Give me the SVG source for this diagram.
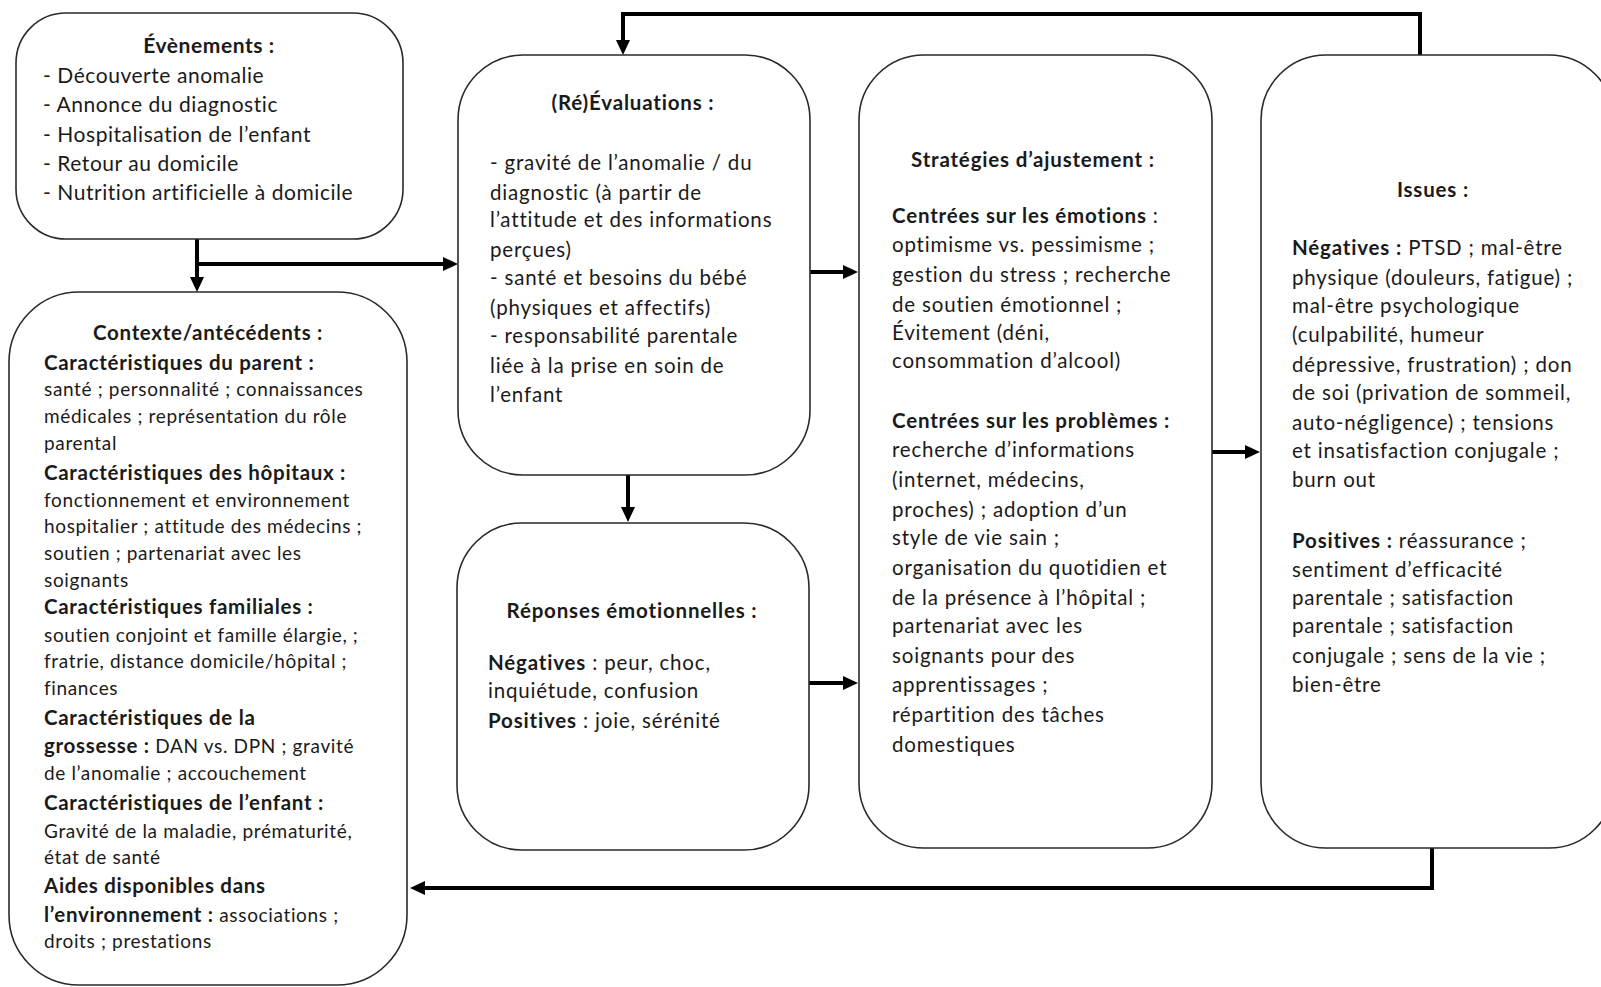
<svg xmlns="http://www.w3.org/2000/svg" width="1601" height="987" viewBox="0 0 1601 987">
<defs>
<style>
.box{fill:#fff;stroke:#2a2a2a;stroke-width:1.6}
text{font-family:Lato,"Open Sans","Liberation Sans",sans-serif;fill:#1a1a1a}
.t{font-size:20.5px;letter-spacing:0.82px}
.s{font-size:19px;letter-spacing:0.65px}
.s .b,.s.b{font-size:20.5px;letter-spacing:0.7px}
.e{font-size:21px;letter-spacing:0.55px}
.b{font-weight:bold}
.c{text-anchor:middle}
.ln{fill:none;stroke:#000;stroke-width:4}
</style>
<marker id="ah" markerUnits="userSpaceOnUse" markerWidth="16" markerHeight="14" refX="5" refY="7" orient="auto">
<path d="M0,0 L15,7 L0,14 z" fill="#000"/>
</marker>
</defs>
<rect width="1601" height="987" fill="#fff"/>

<g id="connectors">
<line class="ln" x1="197" y1="239" x2="197" y2="282" marker-end="url(#ah)"/>
<line class="ln" x1="195" y1="264" x2="448" y2="264" marker-end="url(#ah)"/>
<polyline class="ln" points="1420,55 1420,14 623,14 623,45" marker-end="url(#ah)"/>
<line class="ln" x1="628" y1="475" x2="628" y2="512" marker-end="url(#ah)"/>
<line class="ln" x1="810" y1="272" x2="848" y2="272" marker-end="url(#ah)"/>
<line class="ln" x1="809" y1="683" x2="848" y2="683" marker-end="url(#ah)"/>
<line class="ln" x1="1212" y1="452" x2="1250" y2="452" marker-end="url(#ah)"/>
<polyline class="ln" points="1432,848 1432,888 420,888" marker-end="url(#ah)"/>
</g>

<g id="evenements">
<rect class="box" x="16" y="13" width="387" height="226" rx="50"/>
<text class="e b c" x="209" y="53">Évènements :</text>
<text class="e" x="43" y="83">- Découverte anomalie</text>
<text class="e" x="43" y="112">- Annonce du diagnostic</text>
<text class="e" x="43" y="142">- Hospitalisation de l’enfant</text>
<text class="e" x="43" y="171">- Retour au domicile</text>
<text class="e" x="43" y="200">- Nutrition artificielle à domicile</text>
</g>

<g id="contexte">
<rect class="box" x="9" y="292" width="398" height="693" rx="70"/>
<text class="s b c" x="208" y="340">Contexte/antécédents :</text>
<text class="s b" x="44" y="370">Caractéristiques du parent :</text>
<text class="s" x="44" y="396">santé ; personnalité ; connaissances</text>
<text class="s" x="44" y="423">médicales ; représentation du rôle</text>
<text class="s" x="44" y="450">parental</text>
<text class="s b" x="44" y="480">Caractéristiques des hôpitaux :</text>
<text class="s" x="44" y="507">fonctionnement et environnement</text>
<text class="s" x="44" y="533">hospitalier ; attitude des médecins ;</text>
<text class="s" x="44" y="560">soutien ; partenariat avec les</text>
<text class="s" x="44" y="587">soignants</text>
<text class="s b" x="44" y="614">Caractéristiques familiales :</text>
<text class="s" x="44" y="642">soutien conjoint et famille élargie, ;</text>
<text class="s" x="44" y="668">fratrie, distance domicile/hôpital ;</text>
<text class="s" x="44" y="695">finances</text>
<text class="s b" x="44" y="725">Caractéristiques de la</text>
<text class="s" x="44" y="753"><tspan class="b">grossesse :</tspan> DAN vs. DPN ; gravité</text>
<text class="s" x="44" y="780">de l’anomalie ; accouchement</text>
<text class="s b" x="44" y="810">Caractéristiques de l’enfant :</text>
<text class="s" x="44" y="838">Gravité de la maladie, prématurité,</text>
<text class="s" x="44" y="864">état de santé</text>
<text class="s b" x="44" y="893">Aides disponibles dans</text>
<text class="s" x="44" y="922"><tspan class="b">l’environnement :</tspan> associations ;</text>
<text class="s" x="44" y="948">droits ; prestations</text>
</g>

<g id="reevaluations">
<rect class="box" x="458" y="55" width="352" height="420" rx="65"/>
<text class="t b c" x="633" y="110">(Ré)Évaluations :</text>
<text class="t" x="490" y="170">- gravité de l’anomalie / du</text>
<text class="t" x="490" y="200">diagnostic (à partir de</text>
<text class="t" x="490" y="227">l’attitude et des informations</text>
<text class="t" x="490" y="257">perçues)</text>
<text class="t" x="490" y="285">- santé et besoins du bébé</text>
<text class="t" x="490" y="315">(physiques et affectifs)</text>
<text class="t" x="490" y="343">- responsabilité parentale</text>
<text class="t" x="490" y="373">liée à la prise en soin de</text>
<text class="t" x="490" y="402">l’enfant</text>
</g>

<g id="reponses">
<rect class="box" x="457" y="523" width="352" height="327" rx="65"/>
<text class="t b c" x="632" y="618">Réponses émotionnelles :</text>
<text class="t" x="488" y="670"><tspan class="b">Négatives</tspan> : peur, choc,</text>
<text class="t" x="488" y="698">inquiétude, confusion</text>
<text class="t" x="488" y="728"><tspan class="b">Positives</tspan> : joie, sérénité</text>
</g>

<g id="strategies">
<rect class="box" x="859" y="55" width="353" height="793" rx="65"/>
<text class="t b c" x="1033" y="167">Stratégies d’ajustement :</text>
<text class="t" x="892" y="223"><tspan class="b">Centrées sur les émotions</tspan> :</text>
<text class="t" x="892" y="252">optimisme vs. pessimisme ;</text>
<text class="t" x="892" y="282">gestion du stress ; recherche</text>
<text class="t" x="892" y="312">de soutien émotionnel ;</text>
<text class="t" x="892" y="340">Évitement (déni,</text>
<text class="t" x="892" y="368">consommation d’alcool)</text>
<text class="t b" x="892" y="428">Centrées sur les problèmes :</text>
<text class="t" x="892" y="457">recherche d’informations</text>
<text class="t" x="892" y="487">(internet, médecins,</text>
<text class="t" x="892" y="517">proches) ; adoption d’un</text>
<text class="t" x="892" y="545">style de vie sain ;</text>
<text class="t" x="892" y="575">organisation du quotidien et</text>
<text class="t" x="892" y="605">de la présence à l’hôpital ;</text>
<text class="t" x="892" y="633">partenariat avec les</text>
<text class="t" x="892" y="663">soignants pour des</text>
<text class="t" x="892" y="692">apprentissages ;</text>
<text class="t" x="892" y="722">répartition des tâches</text>
<text class="t" x="892" y="752">domestiques</text>
</g>

<g id="issues">
<rect class="box" x="1261" y="55" width="353" height="793" rx="65"/>
<text class="t b c" x="1433" y="197">Issues :</text>
<text class="t" x="1292" y="255"><tspan class="b">Négatives :</tspan> PTSD ; mal-être</text>
<text class="t" x="1292" y="285">physique (douleurs, fatigue) ;</text>
<text class="t" x="1292" y="313">mal-être psychologique</text>
<text class="t" x="1292" y="342">(culpabilité, humeur</text>
<text class="t" x="1292" y="372">dépressive, frustration) ; don</text>
<text class="t" x="1292" y="400">de soi (privation de sommeil,</text>
<text class="t" x="1292" y="430">auto-négligence) ; tensions</text>
<text class="t" x="1292" y="458">et insatisfaction conjugale ;</text>
<text class="t" x="1292" y="487">burn out</text>
<text class="t" x="1292" y="548"><tspan class="b">Positives :</tspan> réassurance ;</text>
<text class="t" x="1292" y="577">sentiment d’efficacité</text>
<text class="t" x="1292" y="605">parentale ; satisfaction</text>
<text class="t" x="1292" y="633">parentale ; satisfaction</text>
<text class="t" x="1292" y="663">conjugale ; sens de la vie ;</text>
<text class="t" x="1292" y="692">bien-être</text>
</g>
</svg>
